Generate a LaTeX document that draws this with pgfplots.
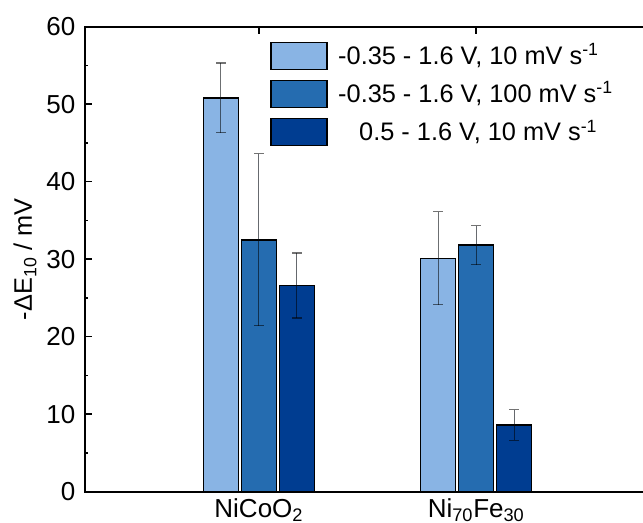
\documentclass[border=0pt]{standalone}
\usepackage{pgfplots}
\pgfplotsset{compat=1.18}
\usepackage{pgfplotstable}
\usepackage{fontspec}
\setmainfont{Liberation Sans}
\definecolor{cA}{RGB}{137,180,228}
\definecolor{cB}{RGB}{37,108,176}
\definecolor{cC}{RGB}{0,61,145}
\pgfplotstableread{
x y e
1 50.8 4.5
2 30.1 6.0
}\tA
\pgfplotstableread{
x y e
1 32.5 11.1
2 31.8 2.5
}\tB
\pgfplotstableread{
x y e
1 26.6 4.2
2 8.6 1.95
}\tC
\pgfplotsset{
  mylegend/.style={legend image code/.code={\draw[##1, line width=1pt] (0pt,-10.125pt) rectangle (42pt,10.125pt);}},
  myerr/.style={error bars/.cd, y dir=both, y explicit,
     error bar style={draw=black, draw opacity=0.55, line width=0.9pt},
     error mark options={draw=black, draw opacity=0.55, line width=0.9pt, mark size=3.5pt, rotate=90}},
}
\begin{document}
\begin{tikzpicture}
\fontsize{19}{22}\selectfont
\begin{axis}[
  name=ax,
  scale only axis,
  width=423.75pt, height=348.75pt,
  xmin=0.2, xmax=2.8, ymin=0, ymax=60,
  ybar=2.25pt, bar width=26.25pt,
  xtick={1,2},
  xticklabels={NiCoO\textsubscript{2}, Ni\textsubscript{70}Fe\textsubscript{30}},
  ytick={0,10,...,60},
  minor y tick num=1,
  tick align=inside,
  major tick length=5.25pt, minor tick length=2.5pt,
  tick style={line width=1.2pt, black},
  axis line style={line width=1.5pt},
  /pgf/number format/assume math mode=true,
  ticklabel style={font=\fontsize{19.5}{22}\selectfont},
  yticklabel style={anchor=east, inner sep=0pt, xshift=-7pt},
  xticklabel style={anchor=north, inner sep=0pt, yshift=-5pt},
  ylabel={-ΔE\textsubscript{10} / mV},
  ylabel style={at={(rel axis cs:0,0.5)}, anchor=center, yshift=45pt, font=\fontsize{19}{22}\selectfont},
  legend style={draw=none, fill=none, at={(rel axis cs:0.3274,0.970)}, anchor=north west,
     inner sep=0pt, row sep=6.4pt, column sep=6pt, font=\fontsize{19}{22}\selectfont,
     cells={anchor=west}},
  legend cell align=left,
]
\addplot[fill=cA, draw=black, line width=1.1pt, mylegend, myerr] table[x=x, y=y, y error=e] {\tA};
\addlegendentry{-0.35 - 1.6 V, 10 mV s\textsuperscript{-1}}
\addplot[fill=cB, draw=black, line width=1.1pt, mylegend, myerr] table[x=x, y=y, y error=e] {\tB};
\addlegendentry{-0.35 - 1.6 V, 100 mV s\textsuperscript{-1}}
\addplot[fill=cC, draw=black, line width=1.1pt, mylegend, myerr] table[x=x, y=y, y error=e] {\tC};
\addlegendentry{\hspace{15.75pt}0.5 - 1.6 V, 10 mV s\textsuperscript{-1}}
\end{axis}
\pgfresetboundingbox
\path[use as bounding box] (ax.south west) ++(-63.75pt,-23.5pt) rectangle ++(482.25pt,392.25pt);
\end{tikzpicture}
\end{document}
